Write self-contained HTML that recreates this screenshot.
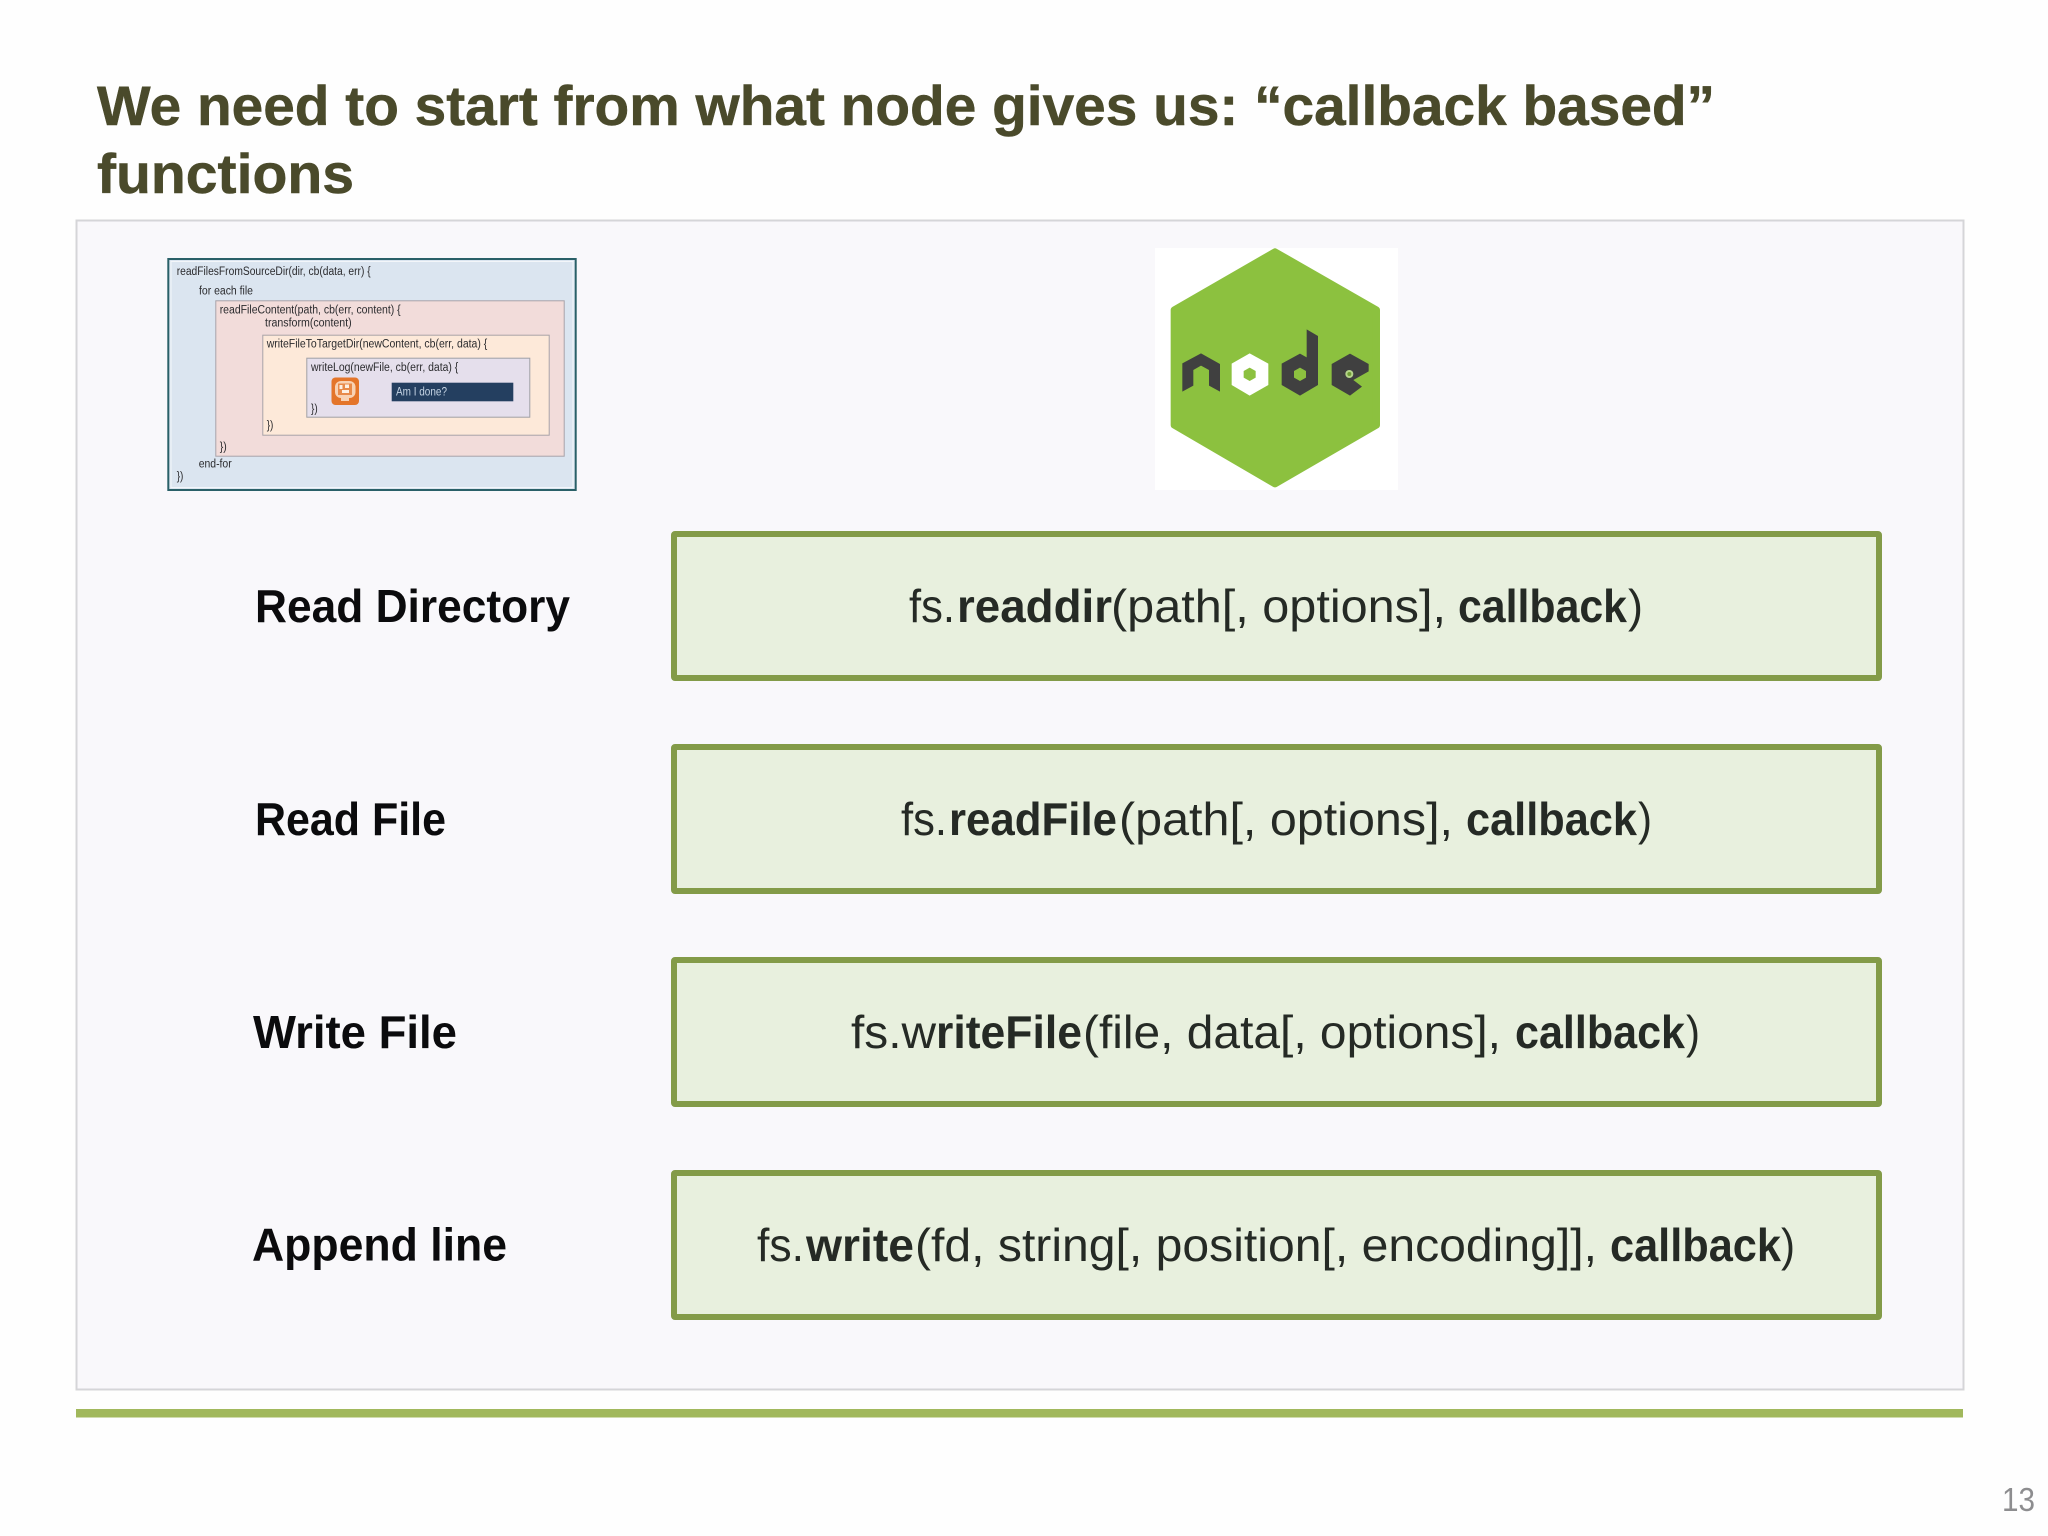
<!DOCTYPE html>
<html lang="en">
<head>
<meta charset="utf-8">
<title>Callback based functions</title>
<style>
html,body{margin:0;padding:0;background:#fefefe;}
svg{display:block;}
text{font-family:"Liberation Sans",Arial,sans-serif;}
.t{font-weight:700;font-size:56px;fill:#4a4a2b;stroke:#4a4a2b;stroke-width:.5px;}
.l{font-weight:700;font-size:46px;fill:#0b0b0d;}
.r{font-size:46px;fill:#252a25;}
.b{font-size:46px;font-weight:700;fill:#252a25;}
.m{font-size:11.5px;fill:#2b2b2e;}
.box{fill:#e8f0de;stroke:#839b48;stroke-width:6;}
</style>
</head>
<body>
<svg width="2048" height="1536" viewBox="0 0 2048 1536" xmlns="http://www.w3.org/2000/svg">
<rect width="2048" height="1536" fill="#fefefe"/>

<text class="t" x="97" y="125" textLength="1618" lengthAdjust="spacingAndGlyphs">We need to start from what node gives us: “callback based”</text>
<text class="t" x="97" y="193" textLength="257" lengthAdjust="spacingAndGlyphs">functions</text>

<rect x="76.500" y="220.500" width="1887" height="1169" fill="#f9f8fb" stroke="#d5d5d8" stroke-width="2"/>
<rect x="76" y="1409" width="1887" height="8.5" fill="#a1b85c"/>

<!-- mini nested diagram -->
<rect x="168.3" y="259" width="407.4" height="231" fill="#dbe5f0" stroke="#2a6068" stroke-width="2"/>
<rect x="171" y="261.5" width="402" height="226" fill="none" stroke="#f3f6fa" stroke-width="1"/>
<rect x="215.8" y="300.8" width="348.4" height="155.4" fill="#f2dcda" stroke="#a9a3a8" stroke-width="1"/>
<rect x="262.8" y="335.2" width="286.4" height="100" fill="#fde9d9" stroke="#a9a3a8" stroke-width="1"/>
<rect x="306.8" y="358.2" width="223" height="59" fill="#e5dfec" stroke="#a0a0a6" stroke-width="1"/>
<rect x="391.7" y="382.7" width="121.6" height="18.6" fill="#243f60"/>
<text x="396" y="395.7" font-size="11.5" fill="#c5d4e4" textLength="51" lengthAdjust="spacingAndGlyphs">Am I done?</text>

<text class="m" x="176.7" y="275" textLength="194" lengthAdjust="spacingAndGlyphs">readFilesFromSourceDir(dir,  cb(data, err) {</text>
<text class="m" x="199" y="294.3" textLength="54" lengthAdjust="spacingAndGlyphs">for each file</text>
<text class="m" x="219.7" y="313.3" textLength="181" lengthAdjust="spacingAndGlyphs">readFileContent(path, cb(err, content) {</text>
<text class="m" x="265" y="326.7" textLength="86.7" lengthAdjust="spacingAndGlyphs">transform(content)</text>
<text class="m" x="266.7" y="347.7" textLength="220.6" lengthAdjust="spacingAndGlyphs">writeFileToTargetDir(newContent, cb(err, data) {</text>
<text class="m" x="311" y="371" textLength="147.3" lengthAdjust="spacingAndGlyphs">writeLog(newFile, cb(err, data) {</text>
<text class="m" x="311" y="412.7" textLength="6.7" lengthAdjust="spacingAndGlyphs">})</text>
<text class="m" x="266.7" y="429" textLength="6.7" lengthAdjust="spacingAndGlyphs">})</text>
<text class="m" x="219.7" y="450.7" textLength="7" lengthAdjust="spacingAndGlyphs">})</text>
<text class="m" x="198.7" y="467.3" textLength="33" lengthAdjust="spacingAndGlyphs">end-for</text>
<text class="m" x="176.7" y="480" textLength="6.7" lengthAdjust="spacingAndGlyphs">})</text>

<!-- mini orange icon -->
<rect x="331.5" y="377.5" width="27.5" height="27.5" rx="4" fill="#e4752a"/>
<rect x="335" y="381" width="20.5" height="17" rx="6" fill="#f8d2b4"/>
<rect x="338" y="383.500" width="14" height="11.500" fill="#e88a4a"/>
<rect x="339.500" y="385" width="3" height="4" fill="#fdf0e4"/>
<rect x="345" y="384.500" width="4" height="3.500" fill="#fdf0e4"/>
<rect x="342" y="390" width="7" height="3" fill="#fdf0e4"/>
<rect x="341" y="398" width="8" height="3" fill="#f8d2b4"/>

<!-- node logo -->
<rect x="1155" y="248" width="243" height="242" fill="#ffffff"/>
<g transform="translate(1140 230) scale(.33333)">
  <polygon points="405,66 709,240 709,585 405,761 103,585 103,240" fill="#8cc13f" stroke="#8cc13f" stroke-width="22" stroke-linejoin="round"/>
  <polygon points="127,400 183,370 240,402 240,485 207,467 207,420 183,407 160,420 160,467 127,485" fill="#404040"/>
  <polygon points="329,370 385,401 385,465 329,497 275,465 275,401" fill="#ffffff"/>
  <polygon points="329,413 347,423 347,443 329,453 311,443 311,423" fill="#8cc13f"/>
  <polygon points="425,401 480,371 500,382 500,298 534,318 534,465 480,497 425,465" fill="#404040"/>
  <polygon points="480,413 498,423 498,443 480,453 462,443 462,423" fill="#8cc13f"/>
  <polygon points="575,402 630,371 686,402 686,424 640,450 666,470 630,497 575,465" fill="#404040"/>
  <circle cx="628" cy="432" r="12" fill="#b5d58a"/>
  <circle cx="628" cy="432" r="6" fill="#6f9c35"/>
</g>

<!-- rows -->
<rect class="box" x="674" y="534" width="1205" height="144" rx="1"/>
<rect class="box" x="674" y="747" width="1205" height="144" rx="1"/>
<rect class="box" x="674" y="960" width="1205" height="144" rx="1"/>
<rect class="box" x="674" y="1173" width="1205" height="144" rx="1"/>

<text class="l" x="255" y="622" textLength="315" lengthAdjust="spacingAndGlyphs">Read Directory</text>
<text class="l" x="255" y="835" textLength="191" lengthAdjust="spacingAndGlyphs">Read File</text>
<text class="l" x="253" y="1048" textLength="204" lengthAdjust="spacingAndGlyphs">Write File</text>
<text class="l" x="252" y="1260.5" textLength="255" lengthAdjust="spacingAndGlyphs">Append line</text>

<!-- row 1 -->
<text class="r" x="909" y="622" textLength="46" lengthAdjust="spacingAndGlyphs">fs.</text>
<text class="b" x="957" y="622" textLength="155" lengthAdjust="spacingAndGlyphs">readdir</text>
<text class="r" x="1111" y="622" textLength="335" lengthAdjust="spacingAndGlyphs">(path[, options],</text>
<text class="b" x="1458" y="622" textLength="169" lengthAdjust="spacingAndGlyphs">callback</text>
<text class="r" x="1628" y="622" textLength="15" lengthAdjust="spacingAndGlyphs">)</text>

<!-- row 2 -->
<text class="r" x="901" y="835" textLength="46" lengthAdjust="spacingAndGlyphs">fs.</text>
<text class="b" x="949" y="835" textLength="168" lengthAdjust="spacingAndGlyphs">readFile</text>
<text class="r" x="1119" y="835" textLength="334" lengthAdjust="spacingAndGlyphs">(path[, options],</text>
<text class="b" x="1466" y="835" textLength="171" lengthAdjust="spacingAndGlyphs">callback</text>
<text class="r" x="1638" y="835" textLength="14" lengthAdjust="spacingAndGlyphs">)</text>

<!-- row 3 -->
<text class="r" x="851" y="1048" textLength="85" lengthAdjust="spacingAndGlyphs">fs.w</text>
<text class="b" x="936" y="1048" textLength="146" lengthAdjust="spacingAndGlyphs">riteFile</text>
<text class="r" x="1083" y="1048" textLength="418" lengthAdjust="spacingAndGlyphs">(file, data[, options],</text>
<text class="b" x="1515" y="1048" textLength="170" lengthAdjust="spacingAndGlyphs">callback</text>
<text class="r" x="1686" y="1048" textLength="14" lengthAdjust="spacingAndGlyphs">)</text>

<!-- row 4 -->
<text class="r" x="757" y="1261" textLength="47" lengthAdjust="spacingAndGlyphs">fs.</text>
<text class="b" x="806" y="1261" textLength="108" lengthAdjust="spacingAndGlyphs">write</text>
<text class="r" x="915" y="1261" textLength="682" lengthAdjust="spacingAndGlyphs">(fd, string[, position[, encoding]],</text>
<text class="b" x="1610" y="1261" textLength="171" lengthAdjust="spacingAndGlyphs">callback</text>
<text class="r" x="1781" y="1261" textLength="14" lengthAdjust="spacingAndGlyphs">)</text>

<text x="2002" y="1511" font-size="33" fill="#8d8d8f" textLength="33" lengthAdjust="spacingAndGlyphs">13</text>
</svg>
</body>
</html>
